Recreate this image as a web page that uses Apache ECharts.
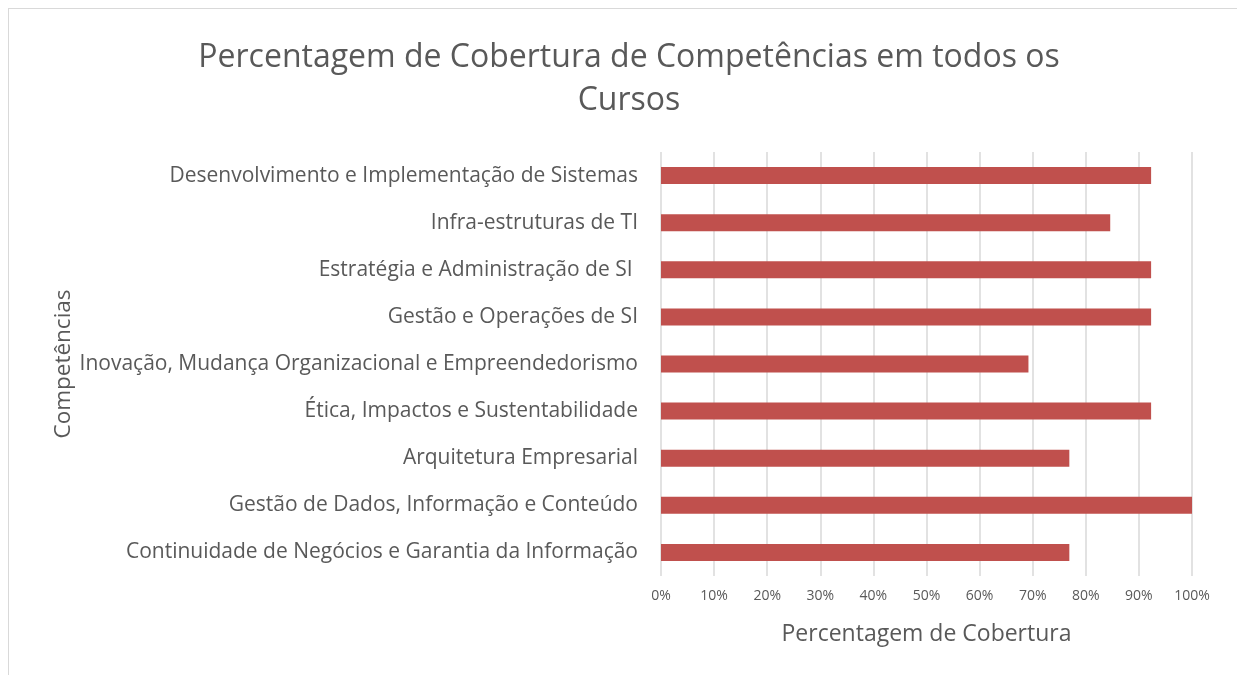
<!DOCTYPE html>
<html>
<head>
<meta charset="utf-8">
<script src="https://cdn.jsdelivr.net/npm/echarts@6/dist/echarts.min.js"></script>
<style>
  html, body {
    margin: 0;
    padding: 0;
    background: #ffffff;
  }
  #frame {
    position: absolute;
    left: 8px;
    top: 8px;
    width: 1240px;
    height: 680px;
    border: 1px solid #d9d9d9;
    box-sizing: border-box;
  }
  #chart {
    position: absolute;
    left: 0;
    top: 0;
    width: 1237px;
    height: 675px;
  }
</style>
</head>
<body>
<div id="frame"></div>
<div id="chart"></div>
<script>
const competencias = [
  'Desenvolvimento e Implementação de Sistemas',
  'Infra-estruturas de TI',
  'Estratégia e Administração de SI ',
  'Gestão e Operações de SI',
  'Inovação, Mudança Organizacional e Empreendedorismo',
  'Ética, Impactos e Sustentabilidade',
  'Arquitetura Empresarial',
  'Gestão de Dados, Informação e Conteúdo',
  'Continuidade de Negócios e Garantia da Informação'
]
const cobertura = [92.3, 84.6, 92.3, 92.3, 69.2, 92.3, 76.9, 100, 76.9]

const FONT = 'Open Sans'
const TEXT_COLOR = '#595959'
const GRID_COLOR = '#d9d9d9'
const BAR_COLOR = '#c0504d'

const chart = echarts.init(document.getElementById('chart'))
chart.setOption({
  animation: false,
  textStyle: { fontFamily: FONT },
  title: {
    text: 'Percentagem de Cobertura de Competências em todos os\nCursos',
    left: 624,
    textAlign: 'center',
    top: 31,
    textStyle: {
      color: TEXT_COLOR,
      fontFamily: FONT,
      fontSize: 32,
      fontWeight: 'normal',
      lineHeight: 43
    }
  },
  grid: {
    left: 661,
    right: 45,
    top: 152,
    bottom: 99
  },
  xAxis: {
    type: 'value',
    min: 0,
    max: 100,
    interval: 10,
    name: 'Percentagem de Cobertura',
    nameLocation: 'middle',
    nameGap: 47,
    nameTextStyle: {
      color: TEXT_COLOR,
      fontFamily: FONT,
      fontSize: 23
    },
    axisLine: { show: false },
    axisTick: { show: false },
    axisLabel: {
      color: TEXT_COLOR,
      fontFamily: FONT,
      fontSize: 14,
      margin: 13,
      formatter: '{value}%'
    },
    splitLine: {
      lineStyle: { color: GRID_COLOR, width: 1.5 }
    }
  },
  yAxis: {
    type: 'category',
    inverse: true,
    data: competencias,
    name: 'Competências',
    nameLocation: 'middle',
    nameRotate: 90,
    nameGap: 586,
    nameTextStyle: {
      color: TEXT_COLOR,
      fontFamily: FONT,
      fontSize: 22.5
    },
    axisLine: { show: false },
    axisTick: { show: false },
    axisLabel: {
      color: TEXT_COLOR,
      fontFamily: FONT,
      fontSize: 21,
      margin: 23,
      padding: [4, 0, 0, 0]
    }
  },
  series: [
    {
      type: 'bar',
      data: cobertura,
      barWidth: 17,
      itemStyle: { color: BAR_COLOR }
    }
  ]
})
</script>
</body>
</html>
